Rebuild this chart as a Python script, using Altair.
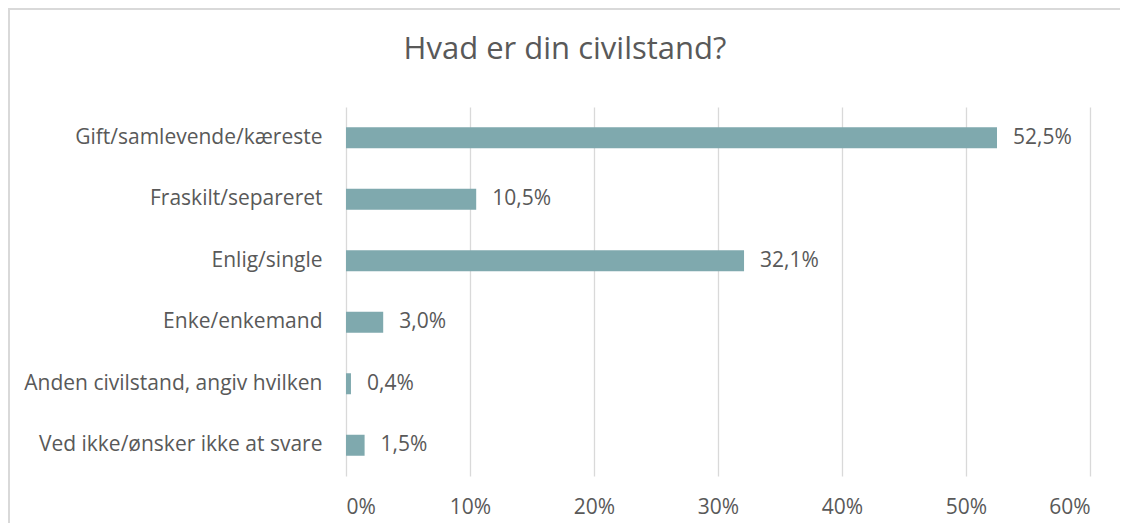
import altair as alt
import pandas as pd

categories = [
    "Gift/samlevende/kæreste",
    "Fraskilt/separeret",
    "Enlig/single",
    "Enke/enkemand",
    "Anden civilstand, angiv hvilken",
    "Ved ikke/ønsker ikke at svare",
]
values = [52.5, 10.5, 32.1, 3.0, 0.4, 1.5]
tick_values = [0, 10, 20, 30, 40, 50, 60]
title_text = "Hvad er din civilstand?"

df = pd.DataFrame({"cat": categories, "val": values})
df["lab"] = df["val"].map(lambda v: f"{v:.1f}".replace(".", ",") + "%")

FONT = "Open Sans"
GREY = "#595959"
FS = 21

W, H = 744, 369

border = alt.Chart(pd.DataFrame({"a": [0]})).mark_rect(
    fillOpacity=0, stroke="#d9d9d9", strokeWidth=2
).encode(
    x=alt.value(-337), x2=alt.value(800), y=alt.value(-98), y2=alt.value(440)
)

title = alt.Chart(pd.DataFrame({"t": [title_text]})).mark_text(
    font=FONT, fontSize=31, color=GREY, align="center", baseline="middle"
).encode(x=alt.value(219), y=alt.value(-57), text="t:N")

base = alt.Chart(df).encode(
    y=alt.Y("cat:N", sort=categories,
            scale=alt.Scale(paddingInner=0, paddingOuter=0),
            axis=alt.Axis(title=None, domain=False, ticks=False, labelPadding=24,
                          labelFont=FONT, labelFontSize=FS, labelColor=GREY,
                          labelLimit=400, grid=False)),
    x=alt.X("val:Q", scale=alt.Scale(domain=[0, 60], nice=False),
            axis=alt.Axis(title=None, values=tick_values, domain=False, ticks=False,
                          labelExpr="datum.value + '%'", labelPadding=20,
                          labelFont=FONT, labelFontSize=FS, labelColor=GREY,
                          grid=True, gridColor="#d9d9d9", gridWidth=1.3)),
)

bars = base.mark_bar(color="#7FA9AE", size=21)
labels = base.mark_text(align="left", baseline="middle", dx=16, font=FONT,
                        fontSize=FS, color=GREY).encode(text="lab:N")

chart = alt.layer(border, title, bars, labels).properties(
    width=W, height=H,
    autosize=alt.AutoSizeParams(type="none"),
    padding={"left": 338, "top": 99, "right": 30, "bottom": 47},
).configure_view(stroke=None)

chart.save("out.html", embed_options={"renderer": "svg", "actions": False})
